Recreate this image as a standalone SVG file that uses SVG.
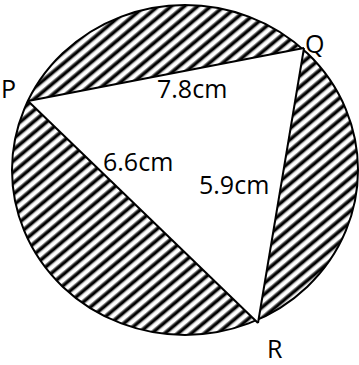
<svg xmlns="http://www.w3.org/2000/svg" width="359" height="365" viewBox="0 0 359 365">
  <defs>
    <pattern id="hatch" patternUnits="userSpaceOnUse" width="10" height="8.5" patternTransform="rotate(-40)">
      <rect x="0" y="0" width="10" height="8.5" fill="#fff"/>
      <rect x="0" y="2" width="10" height="1" fill="#777"/>
      <rect x="0" y="3" width="10" height="2.8" fill="#000"/>
      <rect x="0" y="5.8" width="10" height="1" fill="#777"/>
    </pattern>
    <style>
      .lbl { font-family: "Open Sans", "Liberation Sans", sans-serif; font-size: 25px; fill: #000; }
      .edge { fill: none; stroke: #000; stroke-width: 2; stroke-linejoin: miter; }
    </style>
  </defs>
  <rect width="359" height="365" fill="#fff"/>
  <g id="circle">
    <ellipse cx="185" cy="170" rx="173" ry="165" fill="url(#hatch)" stroke="#000" stroke-width="2"/>
  </g>
  <g id="triangle">
    <polygon points="28,101 304,48 258,323" fill="#fff"/>
  </g>
  <g id="connectors">
    <line class="edge" x1="28" y1="101" x2="304" y2="48"/>
    <line class="edge" x1="304" y1="48" x2="258" y2="323"/>
    <line class="edge" x1="258" y1="323" x2="28" y2="101"/>
  </g>
  <g id="P"><text class="lbl" x="1" y="98">P</text></g>
  <g id="Q"><text class="lbl" x="305" y="53">Q</text></g>
  <g id="R"><text class="lbl" x="267" y="358">R</text></g>
  <g id="labels">
    <text class="lbl" x="157" y="98">7.8cm</text>
    <text class="lbl" x="103" y="171">6.6cm</text>
    <text class="lbl" x="199" y="194">5.9cm</text>
  </g>
</svg>
